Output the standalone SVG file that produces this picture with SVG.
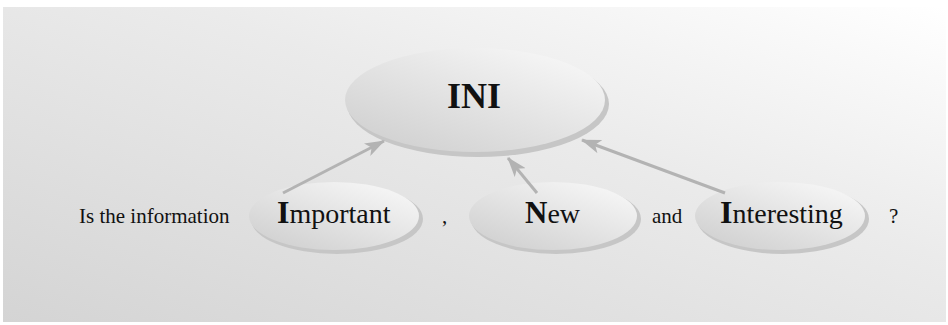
<svg xmlns="http://www.w3.org/2000/svg" width="948" height="325" viewBox="0 0 948 325">
<defs>
<linearGradient id="bg" x1="0" y1="1" x2="1" y2="0">
<stop offset="0" stop-color="#d4d4d4"/>
<stop offset="0.6" stop-color="#ebebeb"/>
<stop offset="1" stop-color="#ffffff"/>
</linearGradient>
<linearGradient id="ell" x1="0.15" y1="0.9" x2="0.85" y2="0.1">
<stop offset="0" stop-color="#d2d2d2"/>
<stop offset="1" stop-color="#f5f5f5"/>
</linearGradient>
<marker id="ah" viewBox="0 0 20 14" refX="19" refY="7" markerWidth="20" markerHeight="14" markerUnits="userSpaceOnUse" orient="auto">
<path d="M0,0 L20,7 L0,14 L5,7 Z" fill="#b3b3b3"/>
</marker>
</defs>
<style>
.sh{fill:#c6c6c6}
.el{fill:url(#ell)}
.t{font-family:"Liberation Serif","Times New Roman",serif;fill:#111}
.b{font-weight:bold}
.c{stroke:#b3b3b3;stroke-width:3;fill:none;marker-end:url(#ah)}
</style>
<rect x="3" y="7" width="943" height="315" fill="url(#bg)"/>
<g id="ini">
<ellipse class="sh" cx="478" cy="104" rx="131" ry="53"/>
<ellipse class="el" cx="475" cy="100" rx="130" ry="52"/>
<text class="t b" x="474" y="108" font-size="36" text-anchor="middle">INI</text>
</g>
<g id="important">
<ellipse class="sh" cx="337" cy="219" rx="86" ry="35"/>
<ellipse class="el" cx="334" cy="216" rx="85" ry="34"/>
<text class="t" x="277" y="223" font-size="28"><tspan class="b" font-size="32">I</tspan>mportant</text>
</g>
<g id="new">
<ellipse class="sh" cx="556" cy="219" rx="85" ry="35"/>
<ellipse class="el" cx="553" cy="216" rx="84" ry="34"/>
<text class="t" x="525" y="223" font-size="28"><tspan class="b" font-size="31">N</tspan>ew</text>
</g>
<g id="interesting">
<ellipse class="sh" cx="783" cy="219" rx="86" ry="35"/>
<ellipse class="el" cx="780" cy="216" rx="85" ry="34"/>
<text class="t" x="720" y="223" font-size="28"><tspan class="b" font-size="32">I</tspan>nteresting</text>
</g>
<g id="labels">
<text class="t" x="79" y="223" font-size="21">Is the information</text>
<text class="t" x="442" y="223" font-size="21">,</text>
<text class="t" x="652" y="223" font-size="21">and</text>
<text class="t" x="889" y="223" font-size="21">?</text>
</g>
<g id="connectors">
<line class="c" x1="283" y1="193" x2="384" y2="141"/>
<line class="c" x1="537" y1="193" x2="508" y2="158"/>
<line class="c" x1="725" y1="193" x2="582" y2="140"/>
</g>
</svg>
